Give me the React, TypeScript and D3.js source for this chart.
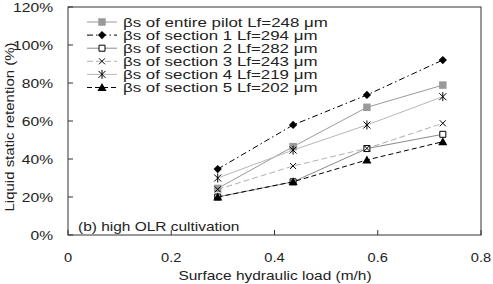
import React from 'react';
import * as d3 from 'd3';

// surface hydraulic load (m/h)
const loads = [0.29, 0.436, 0.579, 0.726];

const entirePilot = [24.5, 46.5, 67.2, 78.9];
const section1 = [34.7, 57.9, 73.7, 92.1];
const section2 = [20, 28, 45.5, 53];
const section3 = [24, 36.3, 45.6, 58.8];
const section4 = [30, 44.7, 57.9, 72.8];
const section5 = [20, 28, 39.5, 49.1];

const xTicks = [0, 0.2, 0.4, 0.6, 0.8];
const yTicks = [0, 20, 40, 60, 80, 100, 120];

const series = [
  { name: 'βs of entire pilot Lf=248 μm', values: entirePilot, stroke: '#9a9a9a', dash: '', marker: 'square', fill: '#9a9a9a' },
  { name: 'βs of section 1 Lf=294 μm', values: section1, stroke: '#000', dash: '6,3,1.5,3', marker: 'diamond', fill: '#000' },
  { name: 'βs of section 2 Lf=282 μm', values: section2, stroke: '#8a8a8a', dash: '', marker: 'opensquare', fill: '#fff' },
  { name: 'βs of section 3 Lf=243 μm', values: section3, stroke: '#b0b0b0', dash: '6,3', marker: 'x', fill: 'none' },
  { name: 'βs of section 4 Lf=219 μm', values: section4, stroke: '#b8b8b8', dash: '', marker: 'star', fill: 'none' },
  { name: 'βs of section 5 Lf=202 μm', values: section5, stroke: '#000', dash: '5,3', marker: 'triangle', fill: '#000' },
];

const W = 493;
const H = 284;
const m = { left: 68, right: 12, top: 7, bottom: 49 };
const font = '"Liberation Sans", Arial, sans-serif';

// text that is stretched sideways, as in the source picture
function T({ x, y, sx, size, anchor = 'start', children }: any) {
  return (
    <g transform={`translate(${x},${y}) scale(${sx},1)`}>
      <text textAnchor={anchor} fontSize={size} fill="#222">{children}</text>
    </g>
  );
}

function Marker({ type, x, y, fill }: { type: string; x: number; y: number; fill: string }) {
  const t = `translate(${x},${y})`;
  if (type === 'square')
    return <path transform={t} d={d3.symbol(d3.symbolSquare, 56)()!} fill={fill} stroke="none" />;
  if (type === 'opensquare')
    return <path transform={t} d={d3.symbol(d3.symbolSquare, 36)()!} fill="#fff" stroke="#000" strokeWidth={1} />;
  if (type === 'diamond')
    return <path transform={`${t} rotate(45)`} d={d3.symbol(d3.symbolSquare, 34)()!} fill="#000" />;
  if (type === 'triangle')
    return <path transform={`translate(${x},${y + 0.8})`} d={d3.symbol(d3.symbolTriangle, 36)()!} fill="#000" />;
  if (type === 'x')
    return <path transform={t} d="M-3,-3L3,3M-3,3L3,-3" stroke="#000" strokeWidth={1} fill="none" />;
  // star: x plus a vertical stroke
  return <path transform={t} d="M-3.5,-3.5L3.5,3.5M-3.5,3.5L3.5,-3.5M0,-4.5L0,4.5" stroke="#000" strokeWidth={1} fill="none" />;
}

export default function App() {
  const x = d3.scaleLinear().domain([0, 0.8]).range([m.left, W - m.right]);
  const y = d3.scaleLinear().domain([0, 120]).range([H - m.bottom, m.top]);
  const line = d3.line<number>()
    .x((_, i) => x(loads[i]))
    .y(d => y(d));

  const legendX = 87;
  const legendY = 22;
  const legendStep = 13.1;

  return (
    <svg width={W} height={H} style={{ position: 'absolute', left: 0, top: 0, background: '#fff' }} fontFamily={font}>
      {/* plot box */}
      <rect x={m.left} y={m.top} width={W - m.left - m.right} height={H - m.top - m.bottom} fill="none" stroke="#333" strokeWidth={1} />

      {yTicks.map(t => (
        <g key={'y' + t}>
          <line x1={m.left} x2={m.left + 5} y1={y(t)} y2={y(t)} stroke="#333" />
          <T x={m.left - 15} y={y(t) + 4.5} sx={1.3} size={12} anchor="end">{t}%</T>
        </g>
      ))}
      {xTicks.map(t => (
        <g key={'x' + t}>
          <line x1={x(t)} x2={x(t)} y1={H - m.bottom} y2={H - m.bottom - 5} stroke="#333" />
          <T x={x(t)} y={262} sx={1.22} size={12} anchor="middle">{t}</T>
        </g>
      ))}

      <T x={275} y={280} sx={1.19} size={13} anchor="middle">Surface hydraulic load (m/h)</T>
      <text transform="translate(14,127) rotate(-90)" textAnchor="middle" fontSize={12.5} fill="#222"
        textLength={169} lengthAdjust="spacingAndGlyphs">Liquid static retention (%)</text>
      <T x={78} y={231} sx={1.19} size={13}>(b) high OLR cultivation</T>

      {series.map(s => (
        <path key={s.name} d={line(s.values)!} fill="none" stroke={s.stroke} strokeWidth={1} strokeDasharray={s.dash} />
      ))}
      {series.map(s => (
        <g key={s.name + 'm'}>
          {s.values.map((v, i) => (
            <Marker key={i} type={s.marker} x={x(loads[i])} y={y(v)} fill={s.fill} />
          ))}
        </g>
      ))}

      {series.map((s, i) => {
        const ly = legendY + i * legendStep;
        return (
          <g key={s.name + 'l'}>
            <line x1={legendX} x2={legendX + 30} y1={ly} y2={ly} stroke={s.stroke} strokeDasharray={s.dash} />
            <Marker type={s.marker} x={legendX + 15} y={ly} fill={s.fill} />
            <T x={legendX + 36} y={ly + 4.6} sx={1.3} size={13}>{s.name}</T>
          </g>
        );
      })}
    </svg>
  );
}
